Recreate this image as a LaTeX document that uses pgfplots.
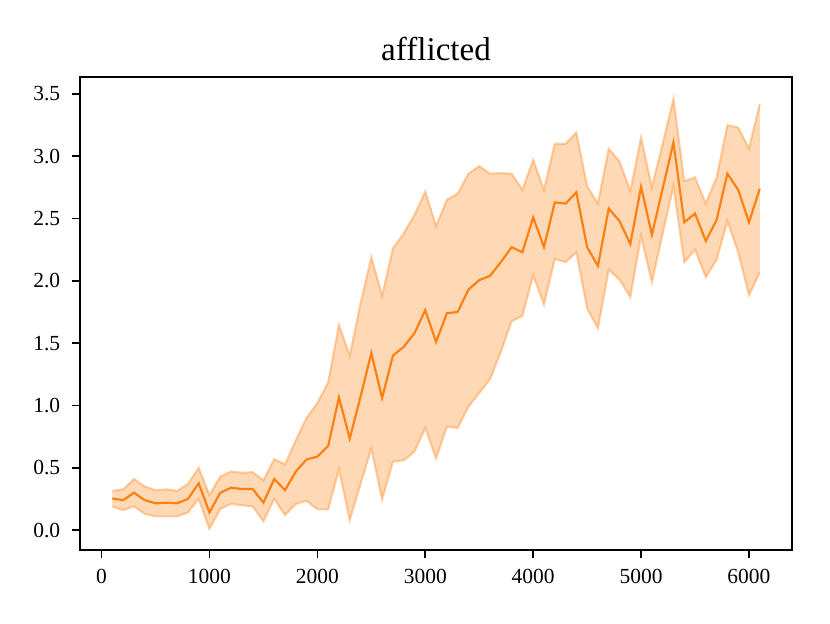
\documentclass[border=0pt]{standalone}
\usepackage{fontspec}
\setmainfont{Liberation Serif}
\usepackage{pgfplots}
\usepackage{pgfplotstable}
\usepgfplotslibrary{fillbetween}
\pgfplotsset{compat=1.18}
\definecolor{tabor}{HTML}{FF7F0E}
\pgfplotstableread{
x mean lo hi
100 0.254 0.19 0.315
200 0.24 0.16 0.327
300 0.30 0.19 0.41
400 0.24 0.13 0.35
500 0.215 0.11 0.32
600 0.22 0.11 0.327
700 0.215 0.11 0.315
800 0.25 0.14 0.37
900 0.375 0.25 0.50
1000 0.142 0.01 0.28
1100 0.30 0.17 0.43
1200 0.34 0.21 0.47
1300 0.33 0.20 0.46
1400 0.33 0.19 0.465
1500 0.22 0.07 0.40
1600 0.41 0.25 0.57
1700 0.32 0.12 0.527
1800 0.47 0.21 0.72
1900 0.567 0.235 0.90
2000 0.59 0.166 1.02
2100 0.675 0.166 1.185
2200 1.065 0.49 1.645
2300 0.735 0.08 1.40
2400 1.07 0.37 1.82
2500 1.42 0.655 2.19
2600 1.06 0.246 1.88
2700 1.40 0.55 2.26
2800 1.47 0.56 2.38
2900 1.58 0.63 2.53
3000 1.765 0.82 2.715
3100 1.51 0.575 2.44
3200 1.74 0.83 2.65
3300 1.75 0.82 2.70
3400 1.93 0.99 2.86
3500 2.006 1.10 2.92
3600 2.04 1.21 2.86
3700 2.15 1.43 2.865
3800 2.27 1.675 2.86
3900 2.23 1.72 2.73
4000 2.51 2.045 2.97
4100 2.27 1.81 2.73
4200 2.63 2.175 3.10
4300 2.62 2.15 3.10
4400 2.71 2.23 3.19
4500 2.27 1.78 2.76
4600 2.12 1.62 2.62
4700 2.58 2.09 3.06
4800 2.48 2.01 2.96
4900 2.295 1.87 2.72
5000 2.755 2.36 3.15
5100 2.37 1.99 2.75
5200 2.74 2.38 3.10
5300 3.11 2.76 3.46
5400 2.47 2.15 2.80
5500 2.54 2.25 2.83
5600 2.32 2.03 2.62
5700 2.49 2.17 2.83
5800 2.86 2.48 3.25
5900 2.73 2.23 3.23
6000 2.47 1.885 3.06
6100 2.74 2.065 3.42
}\data
\begin{document}
\begin{tikzpicture}
\begin{axis}[
  at={(0pt,0pt)}, anchor=south west,
  scale only axis, width=331.2pt, height=220pt,
  xmin=-200, xmax=6400, ymin=-0.16, ymax=3.636,
  xtick={0,1000,2000,3000,4000,5000,6000},
  ytick={0,0.5,1,1.5,2,2.5,3,3.5},
  /pgf/number format/assume math mode=true,
  /pgf/number format/1000 sep={},
  yticklabel style={/pgf/number format/fixed, /pgf/number format/fixed zerofill, /pgf/number format/precision=1, xshift=-2.2pt},
  xticklabel style={yshift=-2pt},
  scaled ticks=false,
  tick align=outside, major tick length=3.5pt,
  xtick pos=bottom, ytick pos=left,
  tick style={black, line width=0.8pt},
  axis line style={line width=0.8pt},
  ticklabel style={font=\fontsize{10}{12}\selectfont},
  title={afflicted}, title style={font=\fontsize{15.4}{17}\selectfont, yshift=-2pt},
]
\addplot[name path=hi, draw=tabor, draw opacity=0.35, line width=1pt] table[x=x,y=hi]{\data};
\addplot[name path=lo, draw=tabor, draw opacity=0.35, line width=1pt] table[x=x,y=lo]{\data};
\addplot[fill=tabor, fill opacity=0.3, draw=none] fill between[of=hi and lo];
\addplot[tabor, line width=1pt] table[x=x,y=mean]{\data};
\end{axis}
\pgfresetboundingbox
\path (-37.2pt,-34.0pt) rectangle (348.8pt,255.8pt);
\end{tikzpicture}
\end{document}
